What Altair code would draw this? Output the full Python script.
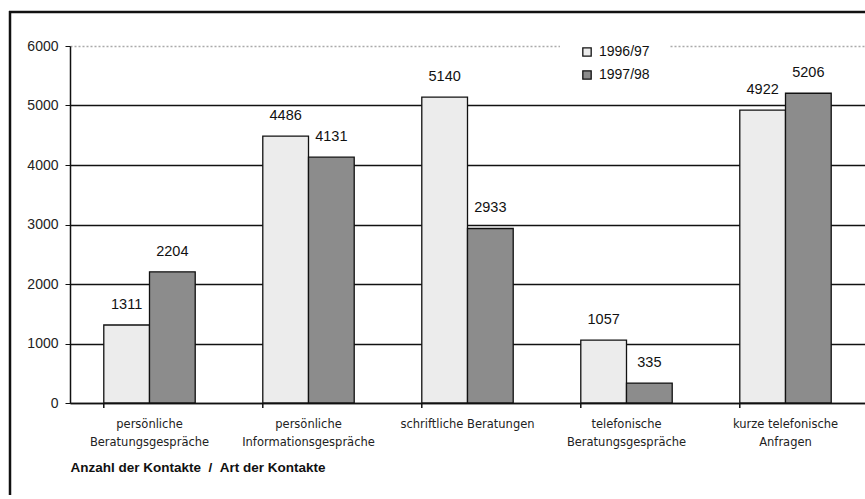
import altair as alt
import pandas as pd

categories = [
    "persönliche\nBeratungsgespräche",
    "persönliche\nInformationsgespräche",
    "schriftliche Beratungen",
    "telefonische\nBeratungsgespräche",
    "kurze telefonische\nAnfragen",
]
series = ["1996/97", "1997/98"]
values_9697 = [1311, 4486, 5140, 1057, 4922]
values_9798 = [2204, 4131, 2933, 335, 5206]
y_ticks = [0, 1000, 2000, 3000, 4000, 5000, 6000]

rows = []
for c, a, b in zip(categories, values_9697, values_9798):
    rows.append({"cat": c, "series": series[0], "value": a})
    rows.append({"cat": c, "series": series[1], "value": b})
df = pd.DataFrame(rows)
cat_df = pd.DataFrame({"cat": categories})

FONT = "Liberation Sans"
W, H = 795, 357

xscale = alt.Scale(domain=categories, paddingInner=0.425, paddingOuter=0.2125)
yscale = alt.Scale(domain=[0, 6000], nice=False)

frame_top = alt.Chart(cat_df.head(1)).mark_rule(color="#111", strokeWidth=2.5).encode(
    x=alt.value(-61), x2=alt.value(W + 2),
    y=alt.value(-34),
)
frame_left = alt.Chart(cat_df.head(1)).mark_rule(color="#111", strokeWidth=2.5).encode(
    x=alt.value(-60), x2=alt.value(-60),
    y=alt.value(-35), y2=alt.value(H + 95),
)

NBSP = "\u00a0"
x_axis = alt.Axis(
    labelExpr="split(datum.label, '\\n')",
    labelAngle=0, labelFont="DejaVu Sans", labelFontSize=11.5, labelColor="#222",
    labelPadding=15, labelLineHeight=18, ticks=False,
    domainColor="#111", domainWidth=1.5,
    title="Anzahl der Kontakte" + NBSP * 2 + "/" + NBSP * 2 + "Art der Kontakte",
    titleFont=FONT, titleFontSize=13.5, titleFontWeight="bold", titleColor="#111",
    titleAnchor="start", titleAlign="left", titleX=0, titleY=68,
    titleBaseline="alphabetic",
)
y_axis = alt.Axis(
    values=y_ticks, title=None, format="d",
    labelFont=FONT, labelFontSize=14, labelColor="#222", labelPadding=7,
    tickSize=5, tickColor="#111", domainColor="#111", domainWidth=1.5,
    grid=True,
    gridColor=alt.condition("datum.value == 6000", alt.value("#aaaaaa"), alt.value("#111")),
    gridDash=alt.condition("datum.value == 6000", alt.value([2, 2]), alt.value([])),
    gridWidth=1.3,
)

bars = alt.Chart(df).mark_bar(stroke="#111", strokeWidth=1.3).encode(
    x=alt.X("cat:N", scale=xscale, axis=x_axis, sort=categories),
    xOffset=alt.XOffset("series:N", sort=series),
    y=alt.Y("value:Q", scale=yscale, axis=y_axis),
    fill=alt.Fill(
        "series:N",
        scale=alt.Scale(domain=series, range=["#ececec", "#8c8c8c"]),
        legend=alt.Legend(
            title=None, orient="none", legendX=490, legendY=-21,
            fillColor="white", padding=20, symbolType="square", symbolSize=70,
            symbolStrokeColor="#111", symbolStrokeWidth=1.3,
            labelFont=FONT, labelFontSize=14, labelColor="#111",
            rowPadding=9, labelOffset=5,
        ),
    ),
)

labels = alt.Chart(df).mark_text(
    baseline="bottom", dy=-13, font=FONT, fontSize=14.5, color="#111"
).encode(
    x=alt.X("cat:N", scale=xscale, sort=categories),
    xOffset=alt.XOffset("series:N", sort=series),
    y=alt.Y("value:Q", scale=yscale),
    text=alt.Text("value:Q", format="d"),
)

ticks = alt.Chart(cat_df).mark_rule(color="#111", strokeWidth=1.5).encode(
    x=alt.X("cat:N", scale=xscale, sort=categories, bandPosition=0),
    y=alt.value(H), y2=alt.value(H + 5),
)

chart = alt.layer(frame_top, frame_left, bars, labels, ticks).properties(
    width=W, height=H,
    autosize=alt.AutoSizeParams(type="none"),
    padding={"left": 70, "top": 46, "right": 0, "bottom": 92},
    background="white",
).configure_view(stroke=None)

chart.save("out.html", embed_options={"renderer": "svg", "actions": False})
